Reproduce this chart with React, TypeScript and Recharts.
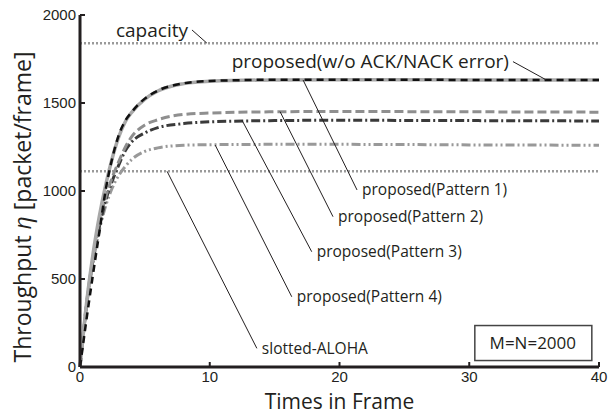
import React from 'react';
import { LineChart, Line, XAxis, YAxis, ReferenceLine, ReferenceDot } from 'recharts';

const frames = [0, 0.5, 1, 1.5, 2, 2.5, 3, 3.5, 4, 5, 6, 8, 10, 15, 20, 25, 30, 35, 40];
const woAckNack = [0, 270, 525, 770, 1015, 1190, 1320, 1400, 1450, 1525, 1570, 1612, 1625, 1632, 1632, 1632, 1631, 1630, 1630];
const pattern1 = [0, 360, 640, 860, 1040, 1190, 1310, 1395, 1448, 1522, 1568, 1610, 1624, 1631, 1632, 1632, 1631, 1630, 1630];
const pattern2 = [0, 360, 620, 820, 970, 1080, 1170, 1250, 1310, 1375, 1405, 1435, 1443, 1450, 1452, 1451, 1450, 1449, 1448];
const pattern3 = [0, 350, 610, 800, 950, 1060, 1150, 1230, 1280, 1330, 1360, 1383, 1393, 1400, 1402, 1401, 1400, 1399, 1398];
const pattern4 = [0, 340, 590, 780, 920, 1020, 1090, 1140, 1180, 1225, 1245, 1260, 1263, 1265, 1265, 1264, 1262, 1261, 1260];

const capacity = 1840;
const slottedAloha = 1112;

const xTicks = [0, 10, 20, 30, 40];
const yTicks = [0, 500, 1000, 1500, 2000];

const data = frames.map((t, i) => ({
  t,
  wo: woAckNack[i],
  p1: pattern1[i],
  p2: pattern2[i],
  p3: pattern3[i],
  p4: pattern4[i],
}));

// leader lines: [from, to] in data units, label sits at one end
const notes = [
  { text: 'capacity', from: [8.63, 1915], to: [9.78, 1840], at: 'from', side: 'left', size: 19 },
  { text: 'proposed(w/o ACK/NACK error)', from: [33.37, 1735], to: [35.94, 1631], at: 'from', side: 'left', size: 19 },
  { text: 'proposed(Pattern 1)', from: [17.19, 1631], to: [21.35, 1006], at: 'to', side: 'right', size: 15.5 },
  { text: 'proposed(Pattern 2)', from: [15.42, 1451], to: [19.5, 854], at: 'to', side: 'right', size: 15.5 },
  { text: 'proposed(Pattern 3)', from: [12.48, 1403], to: [17.86, 655], at: 'to', side: 'right', size: 15.5 },
  { text: 'proposed(Pattern 4)', from: [10.42, 1261], to: [16.32, 399], at: 'to', side: 'right', size: 15.5 },
  { text: 'slotted-ALOHA', from: [6.71, 1112], to: [13.63, 106], at: 'to', side: 'right', size: 15.5 },
];

const INK = '#231f20';
const LABEL_FONT = '"Open Sans", sans-serif';
const TICK_FONT = '"Liberation Sans", Arial, sans-serif';

const YTitle = (props: any) => {
  const vb = props.viewBox;
  const cx = vb.x + 22;
  const cy = vb.y + vb.height / 2 + 16;
  return (
    <text
      x={cx}
      y={cy}
      transform={`rotate(-90, ${cx}, ${cy})`}
      textAnchor="middle"
      dominantBaseline="central"
      fontFamily={LABEL_FONT}
      fontSize={23}
      fill={INK}
    >
      Throughput <tspan fontStyle="italic">η</tspan> [packet/frame]
    </text>
  );
};

const ParamBox = (props: any) => {
  const vb = props.viewBox;
  const cx = vb.x + vb.width / 2;
  const cy = vb.y + vb.height / 2;
  return (
    <g>
      <rect x={cx - 58} y={cy - 17} width={117} height={35} fill="#fff" stroke="#444" strokeWidth={1.5} />
      <text x={cx} y={cy} textAnchor="middle" dominantBaseline="central" fontFamily={LABEL_FONT} fontSize={17} fill={INK}>
        M=N=2000
      </text>
    </g>
  );
};

export default function App() {
  const axisLine = { stroke: INK, strokeWidth: 3 };
  const tickLine = { stroke: INK, strokeWidth: 2 };
  return (
    <div style={{ position: 'absolute', left: 0, top: 0, background: '#fff' }}>
      <LineChart width={609} height={414} data={data} margin={{ top: 15, right: 10, bottom: 0, left: 0 }}>
        <XAxis
          dataKey="t"
          type="number"
          domain={[0, 40]}
          ticks={xTicks}
          interval={0}
          height={47}
          axisLine={axisLine}
          tickLine={tickLine}
          tickSize={-5}
          tickMargin={9}
          tick={{ fill: INK, fontSize: 15, fontFamily: TICK_FONT }}
          label={{ value: 'Times in Frame', position: 'insideBottom', offset: 5, fill: INK, fontSize: 21, fontFamily: LABEL_FONT }}
        />
        <XAxis
          xAxisId="top"
          orientation="top"
          dataKey="t"
          type="number"
          domain={[0, 40]}
          ticks={xTicks}
          interval={0}
          height={0}
          axisLine={axisLine}
          tickLine={tickLine}
          tickSize={-5}
          tickFormatter={() => ''}
        />
        <YAxis
          type="number"
          domain={[0, 2000]}
          ticks={yTicks}
          interval={0}
          width={80}
          axisLine={axisLine}
          tickLine={tickLine}
          tickSize={-5}
          tickMargin={9}
          tick={{ fill: INK, fontSize: 15, fontFamily: TICK_FONT }}
          label={<YTitle />}
        />
        <YAxis
          yAxisId="right"
          orientation="right"
          type="number"
          domain={[0, 2000]}
          ticks={yTicks}
          interval={0}
          width={0}
          axisLine={axisLine}
          tickLine={tickLine}
          tickSize={-5}
          tickFormatter={() => ''}
        />

        <ReferenceLine y={capacity} stroke="#9a9a9a" strokeWidth={2.5} strokeDasharray="2 2" />
        <ReferenceLine y={slottedAloha} stroke="#9a9a9a" strokeWidth={2.5} strokeDasharray="2 2" />

        <Line dataKey="p4" type="monotone" stroke="#999" strokeWidth={3} strokeDasharray="9 3 2 3 2 3" dot={false} isAnimationActive={false} />
        <Line dataKey="p3" type="monotone" stroke="#3a3a3a" strokeWidth={3} strokeDasharray="9 3 2 3" dot={false} isAnimationActive={false} />
        <Line dataKey="p2" type="monotone" stroke="#8f8f8f" strokeWidth={3} strokeDasharray="9 4" dot={false} isAnimationActive={false} />
        <Line dataKey="p1" type="monotone" stroke="#a8a8a8" strokeWidth={3.5} dot={false} isAnimationActive={false} />
        <Line dataKey="wo" type="monotone" stroke="#111" strokeWidth={2.5} strokeDasharray="7 5" dot={false} isAnimationActive={false} />

        {notes.map((n) => (
          <ReferenceLine
            key={n.text + '-line'}
            segment={[{ x: n.from[0], y: n.from[1] }, { x: n.to[0], y: n.to[1] }]}
            stroke={INK}
            strokeWidth={1}
          />
        ))}
        {notes.map((n) => {
          const p = n.at === 'from' ? n.from : n.to;
          return (
            <ReferenceDot
              key={n.text + '-label'}
              x={p[0]}
              y={p[1]}
              r={0}
              stroke="none"
              fill="none"
              label={{ value: n.text, position: n.side as any, offset: n.side === 'left' ? 4 : 5, fill: INK, fontSize: n.size, fontFamily: LABEL_FONT }}
            />
          );
        })}
        <ReferenceDot x={34.9} y={139} r={0} stroke="none" fill="none" label={<ParamBox />} />
      </LineChart>
    </div>
  );
}
